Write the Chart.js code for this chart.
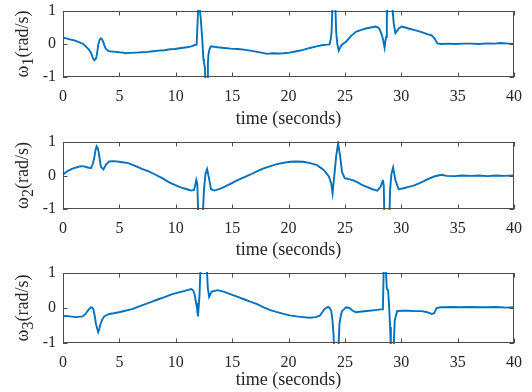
<!DOCTYPE html>
<html>
<head>
<meta charset="utf-8">
<script src="https://cdn.jsdelivr.net/npm/chart.js@4/dist/chart.umd.min.js"></script>
<style>
  html, body { margin: 0; padding: 0; background: #ffffff; }
  body { width: 532px; height: 392px; position: relative; overflow: hidden; }
  .panel { position: absolute; left: 0; width: 532px; }
</style>
</head>
<body>
<div class="panel" style="top:0px;height:131px"><canvas id="c1" width="532" height="131"></canvas></div>
<div class="panel" style="top:131px;height:131px"><canvas id="c2" width="532" height="131"></canvas></div>
<div class="panel" style="top:262px;height:130px"><canvas id="c3" width="532" height="130"></canvas></div>
<script>
// ---- data (time in seconds, angular rate in rad/s; values beyond ±1 are clipped by the axes) ----
const xTicks = [0, 5, 10, 15, 20, 25, 30, 35, 40];
const yTicks = [-1, 0, 1];
const xTitle = 'time (seconds)';
const yLabelSymbol = 'ω';
const yLabelUnit = '(rad/s)';
const yLabelSubs = ['1', '2', '3'];

const t1 = [0,0.3,0.6,1.0,1.46,1.8,2.04,2.3,2.48,2.65,2.77,2.9,2.98,3.08,3.15,3.25,3.36,3.46,3.56,3.68,3.8,4.09,4.5,4.96,5.3,5.55,6.0,6.5,7.0,7.5,8.0,8.46,9.0,9.5,9.92,10.5,11.0,11.38,11.7,11.85,11.92,12.0,12.1,12.2,12.35,12.45,12.5,12.58,12.64,12.78,12.85,12.9,13.0,13.13,13.72,14.3,14.89,15.5,16.05,16.6,17.22,17.7,18.1,18.6,19.1,19.56,20.1,20.72,21.3,21.89,22.5,23.06,23.4,23.64,23.75,23.82,23.9,24.15,24.23,24.33,24.46,24.58,24.7,25.1,25.54,25.98,26.4,26.86,27.3,27.73,27.95,28.08,28.25,28.37,28.52,28.6,28.66,28.72,28.78,29.19,29.33,29.48,29.6,29.77,30.06,30.35,30.65,31.2,31.82,32.3,32.69,32.98,33.2,33.57,34.2,34.73,35.5,36.19,36.9,37.65,38.3,38.82,39.3,40];
const w1 = [0.19,0.17,0.14,0.11,0.05,0.0,-0.08,-0.17,-0.27,-0.42,-0.49,-0.45,-0.37,-0.15,0.02,0.13,0.17,0.14,0.07,-0.05,-0.15,-0.22,-0.23,-0.25,-0.26,-0.28,-0.27,-0.26,-0.25,-0.24,-0.22,-0.2,-0.19,-0.16,-0.15,-0.12,-0.1,-0.07,-0.03,-0.02,0.5,1.2,1.1,0.84,0.16,-0.45,-0.55,-0.7,-1.2,-1.2,-0.6,-0.32,-0.15,-0.07,-0.1,-0.12,-0.14,-0.15,-0.17,-0.2,-0.24,-0.27,-0.3,-0.28,-0.29,-0.28,-0.26,-0.22,-0.18,-0.12,-0.07,-0.03,-0.02,-0.01,0.15,0.36,1.2,1.2,0.36,0.0,-0.2,-0.12,-0.03,0.07,0.24,0.37,0.42,0.47,0.5,0.53,0.5,0.45,0.3,0.16,-0.11,0.1,0.21,0.8,1.2,1.2,0.64,0.33,0.38,0.47,0.53,0.5,0.47,0.42,0.36,0.3,0.26,0.16,0.02,0.0,0.01,0.0,0.01,0.01,0.0,0.02,0.01,0.03,0.02,0.0];

const t2 = [0,0.44,0.8,1.17,1.5,1.75,2.0,2.19,2.48,2.65,2.77,2.88,2.98,3.08,3.15,3.25,3.36,3.59,3.8,4.09,4.5,4.96,5.4,5.84,6.4,7.0,7.6,8.17,8.8,9.34,9.9,10.5,11.0,11.38,11.62,11.75,11.82,11.91,12.0,12.4,12.5,12.64,12.78,12.93,13.13,13.42,13.9,14.3,14.9,15.47,16.0,16.64,17.2,17.8,18.4,18.97,19.6,20.14,20.7,21.3,21.9,22.47,22.9,23.2,23.58,23.79,23.91,24.05,24.23,24.4,24.58,24.75,24.99,25.69,26.1,26.56,27.0,27.44,27.88,28.17,28.3,28.37,28.45,28.5,28.95,29.01,29.13,29.28,29.48,29.77,30.2,30.65,31.1,31.52,32.0,32.4,32.92,33.27,33.6,34.0,34.73,35.4,36.19,36.9,37.65,38.4,39.1,40];
const w2 = [0.03,0.14,0.2,0.24,0.27,0.28,0.26,0.24,0.22,0.35,0.53,0.75,0.87,0.82,0.72,0.5,0.26,0.18,0.32,0.42,0.43,0.41,0.39,0.36,0.29,0.2,0.12,0.03,-0.08,-0.19,-0.28,-0.36,-0.41,-0.45,-0.43,-0.25,-0.13,-0.24,-1.2,-1.2,-0.43,0.05,0.19,-0.05,-0.41,-0.45,-0.4,-0.34,-0.24,-0.14,-0.06,0.03,0.12,0.21,0.28,0.34,0.38,0.41,0.42,0.41,0.37,0.32,0.22,0.14,-0.03,-0.24,-0.53,-0.05,0.58,0.96,0.58,0.1,-0.08,-0.14,-0.2,-0.29,-0.35,-0.41,-0.45,-0.34,-0.2,-0.13,-0.3,-1.2,-1.2,-0.43,0.05,0.24,-0.14,-0.41,-0.38,-0.34,-0.3,-0.24,-0.17,-0.1,-0.03,0.0,0.02,-0.01,-0.02,0.0,-0.01,0.0,-0.02,0.0,-0.01,0.0];

const t3 = [0,0.6,1.17,1.75,2.0,2.19,2.35,2.48,2.6,2.69,2.8,2.92,3.12,3.22,3.33,3.5,3.65,4.09,4.5,4.96,5.5,6.13,6.7,7.3,7.9,8.46,9.0,9.63,10.2,10.8,11.38,11.55,11.67,11.8,11.88,11.97,12.05,12.11,12.2,12.75,12.84,12.96,13.19,13.72,14.3,14.89,15.5,16.05,16.6,17.22,17.8,18.39,19.0,19.56,20.1,20.72,21.3,21.89,22.4,22.77,23.0,23.2,23.5,23.65,23.79,23.9,23.99,24.05,24.42,24.52,24.65,24.75,25.1,25.39,25.7,25.98,26.5,27.15,27.7,28.17,28.37,28.45,28.62,28.72,28.84,28.93,29.01,29.08,29.32,29.42,29.63,30.1,30.65,31.2,31.82,32.3,32.69,32.92,33.13,33.5,33.86,34.5,35.2,36.19,36.9,37.65,38.3,38.82,39.3,40];
const w3 = [-0.22,-0.24,-0.26,-0.24,-0.17,-0.08,-0.02,0.02,0.01,-0.03,-0.2,-0.45,-0.69,-0.6,-0.45,-0.32,-0.24,-0.17,-0.15,-0.12,-0.08,-0.03,0.04,0.11,0.18,0.25,0.31,0.39,0.44,0.49,0.54,0.5,0.39,0.15,0.02,-0.24,0.1,0.39,1.2,1.2,0.58,0.32,0.47,0.51,0.46,0.39,0.32,0.25,0.18,0.11,0.02,-0.06,-0.12,-0.17,-0.21,-0.24,-0.26,-0.28,-0.26,-0.22,-0.12,-0.03,0.03,0.0,-0.08,-0.35,-0.73,-1.2,-1.2,-0.45,-0.2,-0.09,0.02,0.0,-0.08,-0.12,-0.1,-0.08,-0.06,-0.04,-0.04,1.2,1.2,0.56,0.49,0.0,-0.54,-1.2,-1.2,-0.36,-0.09,-0.08,-0.08,-0.09,-0.09,-0.12,-0.17,-0.15,0.0,0.02,0.02,0.03,0.02,0.03,0.02,0.02,0.03,0.02,0.01,0.02];

// ---- drawing ----
const LINE = '#0072BD';
const TEXT = '#262626';
const AXIS = '#4d4d4d';
const FONT = "'Liberation Serif', 'Times New Roman', serif";

const boxPlugin = {
  id: 'matlabBox',
  afterDraw(chart, args, opts) {
    const ctx = chart.ctx;
    const a = chart.chartArea;
    const xs = chart.scales.x, ys = chart.scales.y;
    ctx.save();
    ctx.strokeStyle = AXIS;
    ctx.lineWidth = 1;
    ctx.strokeRect(Math.round(a.left) + 0.5, Math.round(a.top) + 0.5,
                   Math.round(a.right - a.left) - 1, Math.round(a.bottom - a.top) - 1);
    const tl = 4.5;
    ctx.beginPath();
    xs.ticks.forEach(t => {
      const px = Math.round(xs.getPixelForValue(t.value)) + 0.5;
      ctx.moveTo(px, a.bottom); ctx.lineTo(px, a.bottom - tl);
      ctx.moveTo(px, a.top); ctx.lineTo(px, a.top + tl);
    });
    ys.ticks.forEach(t => {
      const py = Math.round(ys.getPixelForValue(t.value)) + 0.5;
      ctx.moveTo(a.left, py); ctx.lineTo(a.left + tl, py);
      ctx.moveTo(a.right, py); ctx.lineTo(a.right - tl, py);
    });
    ctx.stroke();
    // rotated y label with subscript
    const cy = (a.top + a.bottom) / 2;
    ctx.translate(opts.x, cy);
    ctx.rotate(-Math.PI / 2);
    ctx.fillStyle = TEXT;
    ctx.textBaseline = 'alphabetic';
    const big = '18px ' + FONT, small = '16px ' + FONT;
    ctx.font = big;
    const wSym = ctx.measureText(yLabelSymbol).width;
    const wUnit = ctx.measureText(yLabelUnit).width;
    ctx.font = small;
    const wSub = ctx.measureText(opts.sub).width;
    const total = wSym + wSub + wUnit;
    let x0 = -total / 2;
    const base = 6;
    ctx.font = big;
    ctx.fillText(yLabelSymbol, x0, base);
    ctx.font = small;
    ctx.fillText(opts.sub, x0 + wSym, base + 5);
    ctx.font = big;
    ctx.fillText(yLabelUnit, x0 + wSym + wSub, base);
    ctx.restore();
  }
};

function makeChart(id, t, w, sub, padTop, areaBottom, canvasH) {
  const pts = t.map((x, i) => ({ x: x, y: w[i] }));
  return new Chart(document.getElementById(id), {
    type: 'line',
    data: { datasets: [{ data: pts, borderColor: LINE, borderWidth: 1.9, pointRadius: 0, tension: 0, fill: false, clip: 1 }] },
    options: {
      responsive: false, animation: false, devicePixelRatio: 1,
      layout: { padding: { top: padTop, right: 14, left: 0, bottom: 0 } },
      plugins: { legend: { display: false }, tooltip: { enabled: false }, matlabBox: { sub: sub, x: 22 } },
      scales: {
        x: {
          type: 'linear', min: 0, max: 40,
          afterBuildTicks: s => { s.ticks = xTicks.map(v => ({ value: v })); },
          ticks: { color: TEXT, font: { family: FONT, size: 16 }, padding: 10, maxRotation: 0, autoSkip: false },
          grid: { display: false, drawTicks: false }, border: { display: false },
          title: { display: true, text: xTitle, color: TEXT, font: { family: FONT, size: 18 }, padding: { top: 0, bottom: 1 } },
          afterFit: s => { s.height = canvasH - areaBottom; }
        },
        y: {
          type: 'linear', min: -1, max: 1,
          afterBuildTicks: s => { s.ticks = yTicks.map(v => ({ value: v })); },
          ticks: { color: TEXT, font: { family: FONT, size: 16, lineHeight: 0.5 }, padding: 7 },
          grid: { display: false, drawTicks: false }, border: { display: false },
          afterFit: s => { s.width = 63; }
        }
      }
    },
    plugins: [boxPlugin]
  });
}

makeChart('c1', t1, w1, yLabelSubs[0], 9, 77, 131);
makeChart('c2', t2, w2, yLabelSubs[1], 9, 78, 131);
makeChart('c3', t3, w3, yLabelSubs[2], 10, 81, 130);
</script>
</body>
</html>
